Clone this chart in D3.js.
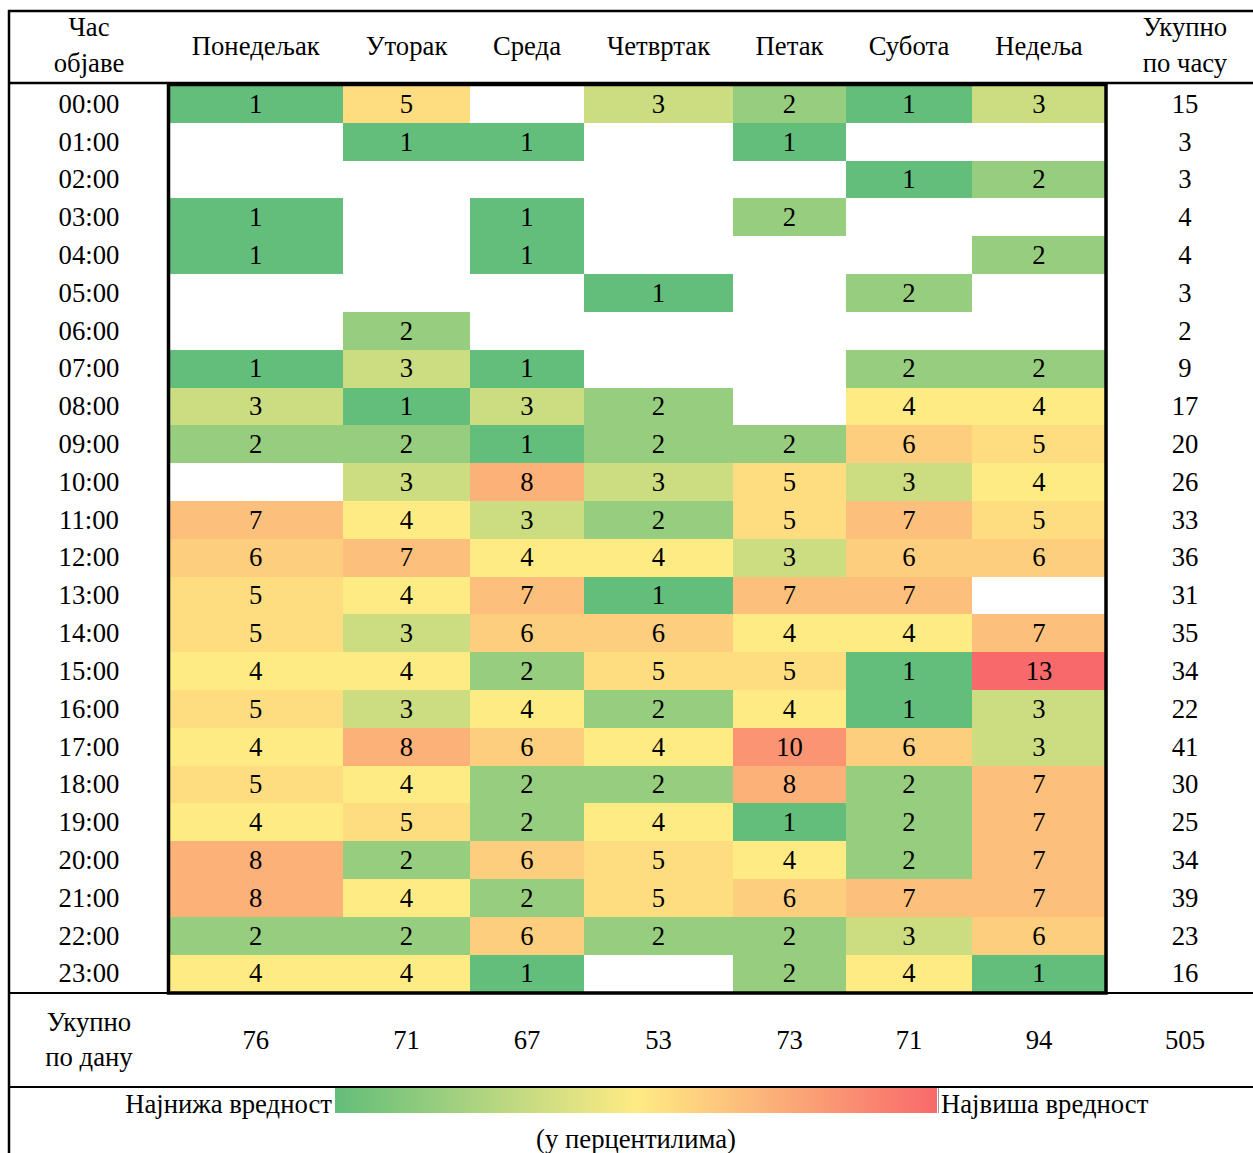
<!DOCTYPE html>
<html>
<head>
<meta charset="utf-8">
<script src="https://cdn.jsdelivr.net/npm/d3@7"></script>
<style>
  html, body { margin: 0; padding: 0; background: #fff; }
  svg { display: block; }
</style>
</head>
<body>
<svg id="chart" width="1253" height="1153"></svg>
<script>
// Hour-of-posting labels (rows)
const hours = ["00:00","01:00","02:00","03:00","04:00","05:00","06:00","07:00",
  "08:00","09:00","10:00","11:00","12:00","13:00","14:00","15:00",
  "16:00","17:00","18:00","19:00","20:00","21:00","22:00","23:00"];

// Weekday labels (columns)
const days = ["Понедељак","Уторак","Среда","Четвртак","Петак","Субота","Недеља"];

// Posts per hour for each weekday (null = no posts)
const monday    = [1,null,null,1,1,null,null,1,3,2,null,7,6,5,5,4,5,4,5,4,8,8,2,4];
const tuesday   = [5,1,null,null,null,null,2,3,1,2,3,4,7,4,3,4,3,8,4,5,2,4,2,4];
const wednesday = [null,1,null,1,1,null,null,1,3,1,8,3,4,7,6,2,4,6,2,2,6,2,6,1];
const thursday  = [3,null,null,null,null,1,null,null,2,2,3,2,4,1,6,5,2,4,2,4,5,5,2,null];
const friday    = [2,1,null,2,null,null,null,null,null,2,5,5,3,7,4,5,4,10,8,1,4,6,2,2];
const saturday  = [1,null,1,null,null,2,null,2,4,6,3,7,6,7,4,1,1,6,2,2,2,7,3,4];
const sunday    = [3,null,2,null,2,null,null,2,4,5,4,5,6,null,7,13,3,3,7,7,7,7,6,1];

const series = [monday, tuesday, wednesday, thursday, friday, saturday, sunday];

// Header and legend texts
const hourHeader = ["Час", "објаве"];
const hourTotalHeader = ["Укупно", "по часу"];
const dayTotalHeader = ["Укупно", "по дану"];
const legendLow = "Најнижа вредност";
const legendHigh = "Највиша вредност";
const legendNote = "(у перцентилима)";

// ---- layout ----
const W = 1253, H = 1153;
const fontSize = 26.7;
const fontFamily = "'Liberation Serif', 'Times New Roman', Times, 'DejaVu Serif', serif";
const leftX = 9, topY = 11;
const gridLeft = 168.5, gridTop = 85, gridBottom = 992.5;
const frameTop = 84.5, frameBottom = 993;
const dayWidths = [174.5, 127, 114, 149, 113, 126, 134];
const hourColCenter = 89, totalColCenter = 1185;
const textDy = "0.33em";

const svg = d3.select("#chart")
  .attr("font-family", fontFamily)
  .style("font-family", fontFamily);

// Column edges from cumulative widths
const edges = [gridLeft];
dayWidths.forEach(w => edges.push(edges[edges.length - 1] + w));
const gridRight = edges[edges.length - 1];
const xLeft = d3.scaleOrdinal().domain(days).range(edges.slice(0, -1));
const xWidth = d3.scaleOrdinal().domain(days).range(dayWidths);

const y = d3.scaleBand().domain(hours).range([gridTop, gridBottom]).padding(0);

// Three-colour scale: min -> median -> max
const allVals = series.flat().filter(v => v != null);
const color = d3.scaleLinear()
  .domain([d3.min(allVals), d3.median(allVals), d3.max(allVals)])
  .range(["#63BE7B", "#FFEB84", "#F8696B"])
  .interpolate(d3.interpolateRgb);

// Cells
const cells = [];
days.forEach((d, i) => hours.forEach((h, j) => {
  cells.push({ day: d, hour: h, value: series[i][j] });
}));

const gCells = svg.append("g");
gCells.selectAll("rect")
  .data(cells.filter(c => c.value != null))
  .join("rect")
  .attr("x", c => xLeft(c.day))
  .attr("y", c => y(c.hour))
  .attr("width", c => xWidth(c.day))
  .attr("height", y.bandwidth())
  .attr("fill", c => color(c.value))
  .attr("shape-rendering", "crispEdges");

gCells.selectAll("text")
  .data(cells.filter(c => c.value != null))
  .join("text")
  .attr("x", c => xLeft(c.day) + xWidth(c.day) / 2)
  .attr("y", c => y(c.hour) + y.bandwidth() / 2)
  .attr("dy", textDy)
  .attr("text-anchor", "middle")
  .attr("font-size", fontSize)
  .text(c => c.value);

// Row labels and hourly totals
const rowTotals = hours.map((h, j) => d3.sum(series, s => s[j] || 0));
const gRows = svg.append("g").attr("font-size", fontSize).attr("text-anchor", "middle");
gRows.selectAll("text.hour")
  .data(hours)
  .join("text")
  .attr("class", "hour")
  .attr("x", hourColCenter)
  .attr("y", h => y(h) + y.bandwidth() / 2)
  .attr("dy", textDy)
  .text(h => h);
gRows.selectAll("text.rowtotal")
  .data(rowTotals)
  .join("text")
  .attr("class", "rowtotal")
  .attr("x", totalColCenter)
  .attr("y", (t, j) => y(hours[j]) + y.bandwidth() / 2)
  .attr("dy", textDy)
  .text(t => t);

// Header row
const gHead = svg.append("g").attr("font-size", fontSize).attr("text-anchor", "middle");
gHead.selectAll("text.day")
  .data(days)
  .join("text")
  .attr("class", "day")
  .attr("x", d => xLeft(d) + xWidth(d) / 2)
  .attr("y", 46)
  .attr("dy", textDy)
  .text(d => d);
[[hourHeader, hourColCenter], [hourTotalHeader, totalColCenter]].forEach(([lines, cx]) => {
  lines.forEach((t, k) => {
    gHead.append("text")
      .attr("x", cx)
      .attr("y", 27 + k * 36)
      .attr("dy", textDy)
      .text(t);
  });
});

// Daily totals row
const colTotals = series.map(s => d3.sum(s, v => v || 0));
const grand = d3.sum(colTotals);
const totalsY = 1040.5;
const gFoot = svg.append("g").attr("font-size", fontSize).attr("text-anchor", "middle");
gFoot.selectAll("text.coltotal")
  .data(colTotals)
  .join("text")
  .attr("class", "coltotal")
  .attr("x", (t, i) => xLeft(days[i]) + xWidth(days[i]) / 2)
  .attr("y", totalsY)
  .attr("dy", textDy)
  .text(t => t);
gFoot.append("text")
  .attr("x", totalColCenter).attr("y", totalsY).attr("dy", textDy)
  .text(grand);
dayTotalHeader.forEach((t, k) => {
  gFoot.append("text")
    .attr("x", hourColCenter)
    .attr("y", 1022.5 + k * 35)
    .attr("dy", textDy)
    .text(t);
});

// Legend: colour ramp with low/high labels
const legX0 = 335, legX1 = 937, legY = 1088, legH = 25;
const defs = svg.append("defs");
const grad = defs.append("linearGradient").attr("id", "ramp")
  .attr("x1", "0%").attr("x2", "100%").attr("y1", "0%").attr("y2", "0%");
color.range().forEach((c, i) => {
  grad.append("stop").attr("offset", (i / (color.range().length - 1)) * 100 + "%").attr("stop-color", c);
});
svg.append("rect")
  .attr("x", legX0).attr("y", legY)
  .attr("width", legX1 - legX0).attr("height", legH)
  .attr("fill", "url(#ramp)");
svg.append("line")
  .attr("x1", legX1 + 1.5).attr("x2", legX1 + 1.5)
  .attr("y1", legY).attr("y2", legY + legH)
  .attr("stroke", "#9a9a9a").attr("stroke-width", 1);

const gLeg = svg.append("g").attr("font-size", fontSize);
gLeg.append("text")
  .attr("x", legX0 - 3).attr("y", 1104.5).attr("dy", textDy)
  .attr("text-anchor", "end").text(legendLow);
gLeg.append("text")
  .attr("x", legX1 + 4).attr("y", 1104.5).attr("dy", textDy)
  .attr("text-anchor", "start").text(legendHigh);
gLeg.append("text")
  .attr("x", (legX0 + legX1) / 2).attr("y", 1139.5).attr("dy", textDy)
  .attr("text-anchor", "middle").text(legendNote);

// Table rules
const rules = svg.append("g").attr("stroke", "#000");
const hline = (x1, x2, yy, w) => rules.append("line")
  .attr("x1", x1).attr("x2", x2).attr("y1", yy).attr("y2", yy).attr("stroke-width", w);
hline(leftX - 1, W, topY, 2.5);
hline(leftX - 1, W, 83, 2.5);
hline(leftX - 1, gridLeft, 993, 2);
hline(gridRight, W, 993, 2);
hline(leftX - 1, W, 1087, 2);
rules.append("line")
  .attr("x1", leftX).attr("x2", leftX)
  .attr("y1", topY - 1).attr("y2", H)
  .attr("stroke-width", 2.5);

// Heavy frame around the heat map
svg.append("rect")
  .attr("x", gridLeft).attr("y", frameTop)
  .attr("width", gridRight - gridLeft).attr("height", frameBottom - frameTop)
  .attr("fill", "none").attr("stroke", "#000").attr("stroke-width", 3.5);
</script>
</body>
</html>
